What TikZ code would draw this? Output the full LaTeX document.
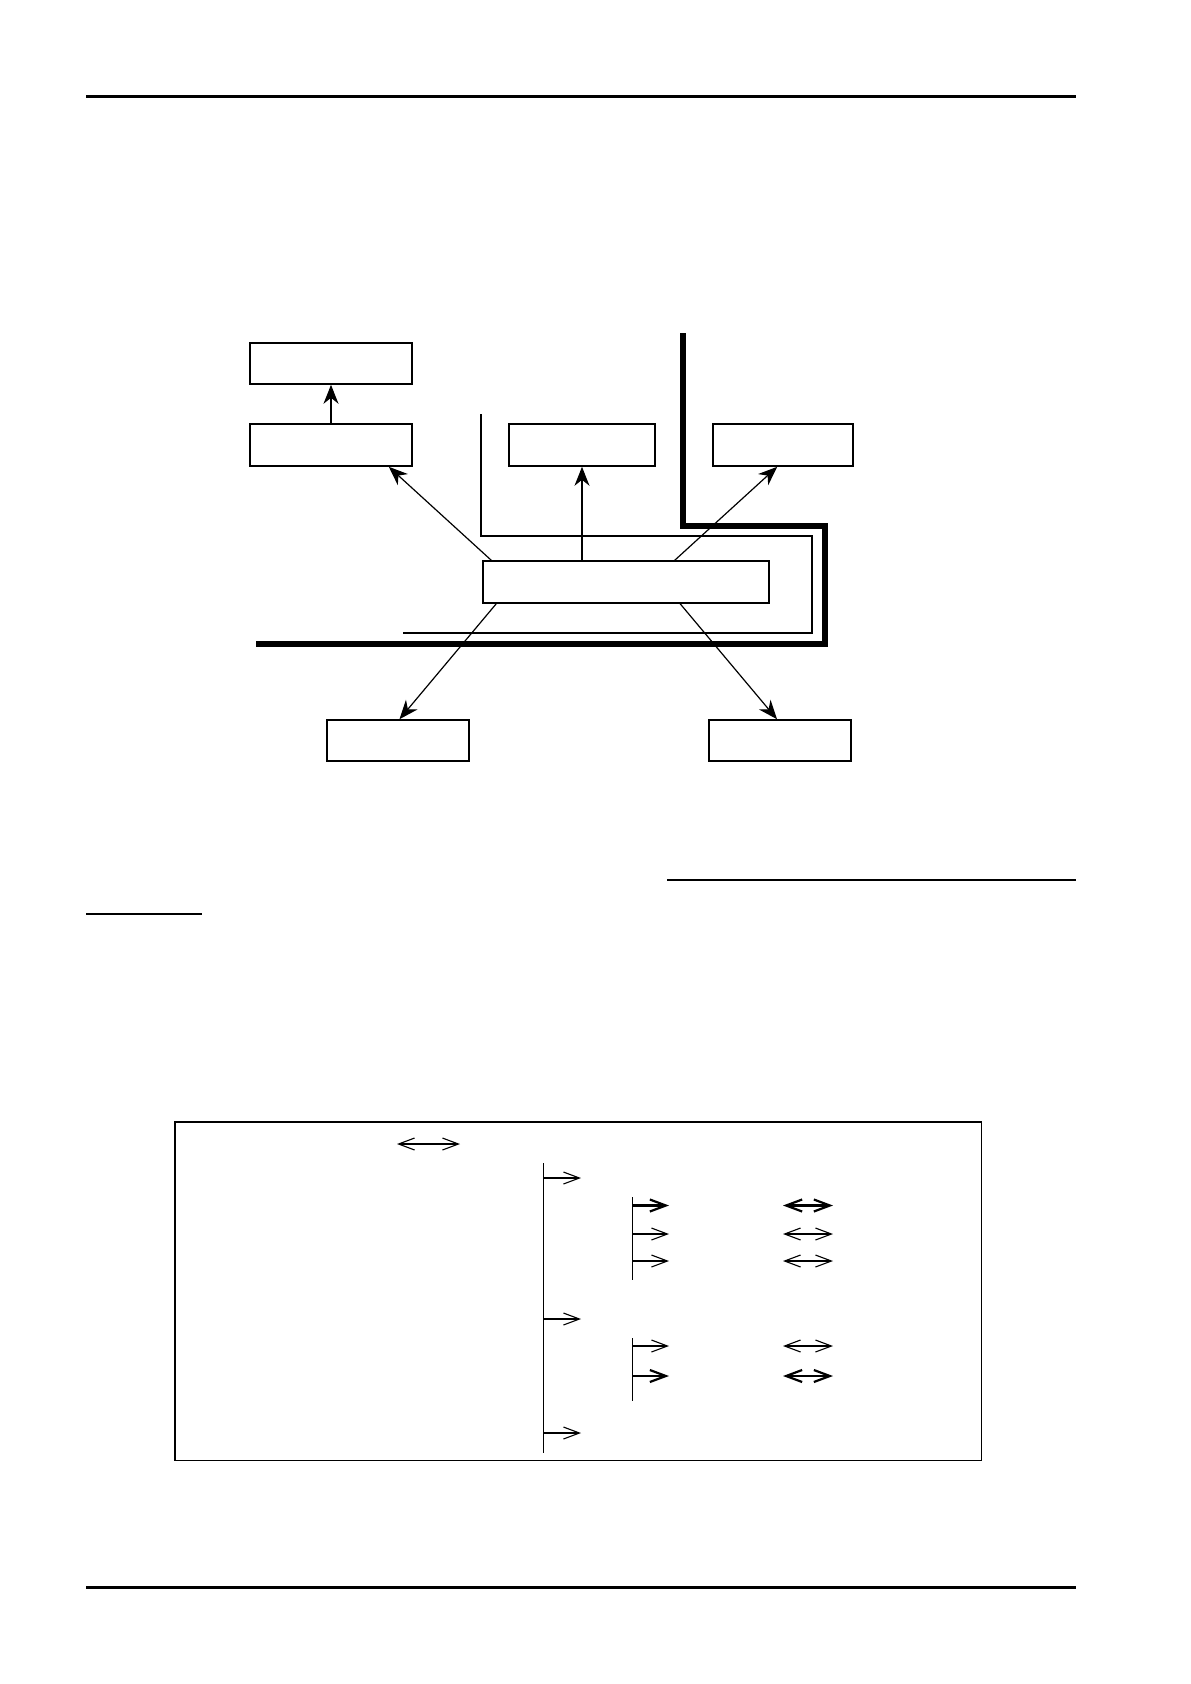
\documentclass[tikz,border=0pt]{standalone}
\usetikzlibrary{arrows.meta,calc}
\begin{document}
\begin{tikzpicture}[x=0.5bp,y=-0.5bp,
  box/.style={draw,line width=0.8bp,inner sep=0pt,fill=white},
  conn/.style={line width=0.6bp,-{Stealth[length=9.5bp,width=7.5bp,inset=3bp]}},
  wall/.style={line width=3bp},
  thinwall/.style={line width=1bp},
  rule/.style={line width=1.5bp},
  uline/.style={line width=0.9bp},
  tree/.style={line width=0.6bp},
  sarr/.style={line width=0.55bp,-{Straight Barb[length=8bp,width=6bp]}},
  darr/.style={line width=0.55bp,{Straight Barb[length=8bp,width=6bp]}-{Straight Barb[length=8bp,width=6bp]}},
  bold/.style={line width=1.1bp}]
\useasboundingbox (0,0) rectangle (1191,1684);
% page rules
\draw[rule] (86,96) -- (1076,96);
\draw[rule] (86,1587) -- (1076,1587);
\draw[uline] (667,880) -- (1076,880);
\draw[uline] (86,914) -- (202,914);
% walls
\draw[wall] (256,644) -- (825,644) -- (825,526) -- (683,526) -- (683,333);
\draw[thinwall] (481,414) -- (481,536) -- (812,536) -- (812,633) -- (403,633);
% boxes
\node[box,minimum width=81bp,minimum height=20.5bp] (A) at (331,363.5) {};
\node[box,minimum width=81bp,minimum height=21bp] (B) at (331,445) {};
\node[box,minimum width=73bp,minimum height=21bp] (D) at (582,445) {};
\node[box,minimum width=70bp,minimum height=21bp] (E) at (783,445) {};
\node[box,minimum width=143bp,minimum height=21bp] (C) at (626,582) {};
\node[box,minimum width=71bp,minimum height=20.5bp] (F) at (398,740.5) {};
\node[box,minimum width=71bp,minimum height=20.5bp] (G) at (780,740.5) {};
% connectors
\draw[conn] (B.north) -- (A.south);
\draw[conn] ($(C.north west)+(9,0)$) -- ($(B.south east)+(-24,0)$);
\draw[conn] (D.south |- C.north) -- (D.south);
\draw[conn] ($(C.north east)+(-95,0)$) -- ($(E.south west)+(65,0)$);
\draw[conn] ($(C.south west)+(14,0)$) -- ($(F.north)+(1.5,0)$);
\draw[conn] ($(C.south west)+(198,0)$) -- ($(G.north)+(-3,0)$);
% lower frame
\draw[line width=0.6bp] (175,1122) rectangle (981.5,1460.5);
\draw[darr] (397,1144) -- (460,1144);
\coordinate (t0) at (543.5,1163);
\coordinate (t1) at (543.5,1453);
\draw[tree] (t0) -- (t1);
\draw[sarr] (543.5,1178) -- (581,1178);
\draw[sarr] (543.5,1319) -- (581,1319);
\draw[sarr] (543.5,1433) -- (581,1433);
\coordinate (s0) at (632.5,1197);
\coordinate (s1) at (632.5,1280);
\draw[tree] (s0) -- (s1);
\draw[sarr,bold] (632.5,1205.5) -- (669,1205.5);
\draw[sarr] (632.5,1234) -- (669,1234);
\draw[sarr] (632.5,1261) -- (669,1261);
\draw[darr,bold] (783,1205.5) -- (833,1205.5);
\draw[darr] (783,1234) -- (833,1234);
\draw[darr] (783,1261) -- (833,1261);
\coordinate (u0) at (632.5,1338);
\coordinate (u1) at (632.5,1401);
\draw[tree] (u0) -- (u1);
\draw[sarr] (632.5,1346) -- (669,1346);
\draw[sarr,bold] (632.5,1376) -- (669,1376);
\draw[darr] (783,1346) -- (833,1346);
\draw[darr,bold] (783,1376) -- (833,1376);
\end{tikzpicture}
\end{document}
